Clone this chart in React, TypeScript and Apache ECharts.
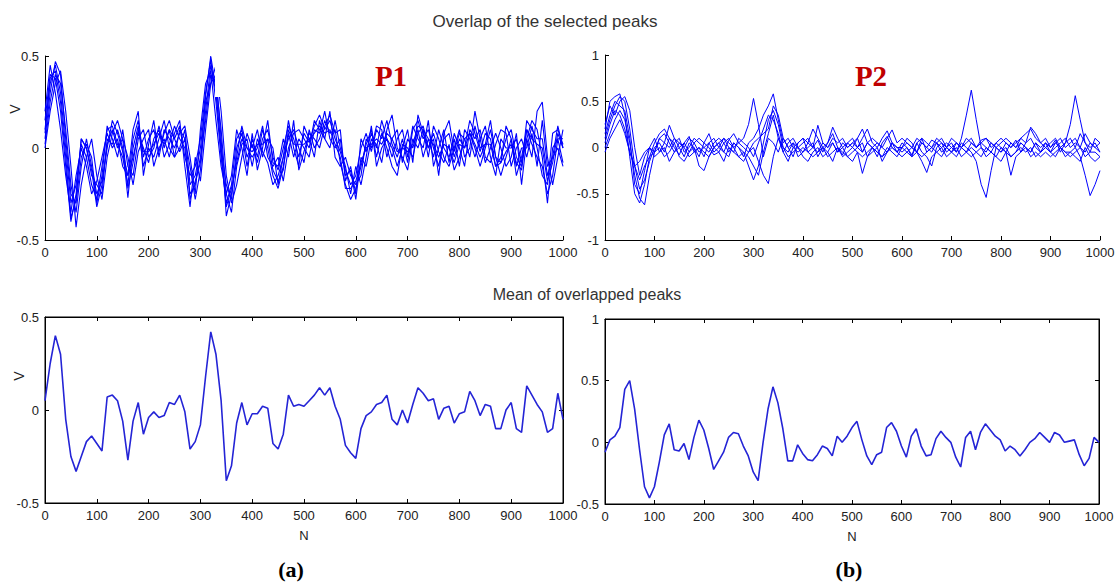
import React, { useEffect, useRef } from "react";
import * as echarts from "echarts";

// sample positions (N) for every stored value: 0, 10, ..., 1000
const sampleN = Array.from({ length: 101 }, (_, i) => i * 10);

// ---- (a) P1: overlapped peaks ----
const p1a = [
  0.10, 0.35, 0.45, 0.30, 0.00, -0.30, -0.20, 0.02, -0.05, -0.20,
  -0.28, -0.10, 0.10, 0.12, 0.02, -0.05, -0.20, 0.05, 0.15, -0.05,
  0.05, 0.10, -0.02, 0.08, 0.15, 0.05, 0.12, -0.05, -0.15, -0.10,
  0.05, 0.30, 0.48, 0.25, -0.05, -0.30, -0.20, 0.05, 0.10, -0.05,
  0.02, -0.08, 0.05, 0.10, -0.05, -0.12, 0.00, 0.12, 0.05, -0.05,
  0.08, 0.03, 0.12, 0.18, 0.10, 0.15, 0.05, -0.02, -0.12, -0.20,
  -0.15, 0.00, 0.08, -0.02, 0.10, 0.05, 0.15, 0.02, -0.05, 0.05,
  -0.08, 0.10, 0.15, 0.05, 0.10, 0.00, -0.10, 0.05, 0.08, -0.05,
  0.05, 0.00, 0.15, 0.08, -0.02, 0.08, 0.05, -0.10, -0.05, 0.05,
  0.10, -0.05, -0.10, 0.15, 0.10, 0.05, 0.05, -0.15, -0.05, 0.12,
  0.00,
];
const p1b = [
  0.02, 0.25, 0.40, 0.35, 0.10, -0.20, -0.35, -0.10, 0.05, -0.10,
  -0.25, -0.18, 0.00, 0.15, 0.08, -0.02, -0.15, -0.05, 0.08, 0.00,
  -0.08, 0.05, 0.10, -0.05, 0.02, 0.12, 0.05, 0.00, -0.25, -0.20,
  -0.05, 0.15, 0.40, 0.35, 0.10, -0.25, -0.35, -0.10, 0.02, 0.05,
  -0.10, 0.05, -0.02, -0.08, -0.20, -0.15, -0.05, 0.05, 0.10, 0.00,
  -0.08, 0.10, 0.00, 0.05, 0.15, 0.08, 0.10, -0.08, -0.20, -0.28,
  -0.22, -0.10, 0.02, 0.10, -0.05, 0.08, 0.00, -0.10, -0.15, 0.02,
  0.00, -0.05, 0.08, 0.12, 0.00, 0.08, -0.02, -0.08, 0.02, -0.12,
  -0.05, 0.05, 0.08, 0.00, -0.10, 0.00, 0.10, -0.05, -0.15, -0.05,
  0.05, -0.15, -0.05, 0.10, 0.02, -0.05, -0.10, -0.25, -0.15, 0.05,
  -0.08,
];
const p1c = [
  0.15, 0.40, 0.38, 0.20, -0.10, -0.40, -0.25, 0.05, 0.00, -0.15,
  -0.20, -0.25, 0.05, 0.02, 0.10, 0.00, -0.27, 0.00, 0.12, -0.10,
  0.00, -0.05, 0.05, 0.15, 0.00, -0.05, 0.10, 0.05, -0.10, -0.28,
  -0.12, 0.20, 0.45, 0.30, 0.00, -0.20, -0.28, 0.00, 0.08, -0.10,
  0.05, -0.05, 0.10, 0.00, -0.15, -0.22, -0.10, 0.08, -0.05, 0.05,
  0.00, -0.05, 0.10, 0.08, 0.20, 0.05, 0.00, 0.05, -0.15, -0.12,
  -0.28, -0.05, -0.10, 0.05, 0.02, -0.08, 0.10, 0.18, 0.00, -0.05,
  -0.12, 0.05, 0.00, 0.10, -0.05, 0.12, 0.05, -0.05, -0.10, 0.00,
  0.10, -0.05, 0.00, 0.20, 0.05, -0.08, 0.00, 0.08, 0.00, -0.10,
  -0.05, 0.08, -0.20, 0.05, 0.15, 0.10, -0.05, -0.30, 0.00, 0.05,
  0.05,
];
const p1d = [
  0.05, 0.30, 0.47, 0.40, 0.05, -0.25, -0.30, -0.05, 0.02, -0.05,
  -0.30, -0.15, 0.12, 0.05, -0.05, 0.10, -0.10, -0.15, 0.05, 0.10,
  -0.05, 0.00, 0.12, 0.00, 0.10, -0.05, 0.00, 0.10, -0.20, -0.15,
  0.00, 0.25, 0.35, 0.40, 0.05, -0.37, -0.25, -0.05, 0.12, 0.00,
  -0.05, 0.00, 0.12, -0.05, -0.10, -0.05, -0.18, 0.00, 0.08, 0.10,
  0.05, 0.00, 0.15, 0.10, 0.05, 0.20, -0.05, -0.10, -0.05, -0.15,
  -0.20, -0.15, 0.05, 0.00, 0.12, 0.10, -0.05, 0.05, 0.10, -0.08,
  0.05, 0.00, 0.10, -0.05, 0.05, -0.05, 0.10, 0.00, -0.05, 0.05,
  -0.10, 0.10, 0.05, -0.05, 0.05, 0.12, -0.05, -0.15, 0.05, 0.00,
  0.00, 0.05, -0.08, 0.05, -0.05, 0.20, 0.25, -0.05, -0.20, -0.05,
  0.10,
];
const p1e = [
  0.00, 0.20, 0.35, 0.42, 0.20, -0.10, -0.43, -0.20, -0.05, 0.05,
  -0.15, -0.28, -0.05, 0.08, 0.15, 0.05, -0.05, -0.20, -0.02, 0.05,
  0.10, -0.10, 0.00, 0.05, -0.05, 0.08, 0.15, -0.10, -0.32, -0.05,
  -0.18, 0.10, 0.35, 0.45, 0.20, -0.15, -0.30, -0.20, -0.05, 0.08,
  0.00, 0.10, -0.05, 0.05, 0.00, -0.20, -0.05, 0.15, 0.00, -0.10,
  0.12, 0.05, -0.05, 0.15, 0.05, 0.00, 0.15, 0.00, -0.10, -0.25,
  -0.10, -0.20, -0.05, 0.12, -0.10, 0.00, 0.05, -0.05, 0.05, 0.10,
  -0.05, 0.12, 0.05, 0.00, 0.15, -0.10, 0.00, 0.10, -0.08, 0.08,
  0.00, -0.10, 0.10, 0.05, 0.10, -0.05, -0.08, 0.02, 0.10, 0.08,
  -0.10, 0.00, 0.05, -0.05, 0.08, -0.10, 0.15, -0.10, -0.05, 0.00,
  -0.10,
];
const p1f = [
  0.20, 0.45, 0.30, 0.10, -0.15, -0.35, -0.15, 0.00, -0.10, -0.25,
  -0.18, -0.05, 0.08, 0.00, 0.05, -0.10, -0.15, 0.10, 0.20, -0.15,
  0.02, 0.15, -0.05, 0.10, 0.05, 0.00, 0.08, 0.12, -0.05, -0.25,
  0.10, 0.35, 0.42, 0.15, -0.10, -0.25, -0.15, 0.10, 0.00, -0.15,
  0.08, -0.12, 0.00, 0.15, -0.08, -0.10, 0.05, -0.05, 0.15, -0.12,
  -0.02, 0.08, 0.05, 0.00, 0.12, 0.18, 0.08, 0.10, -0.18, -0.10,
  -0.25, 0.05, -0.02, 0.08, 0.00, 0.15, 0.05, 0.00, -0.10, 0.00,
  0.10, -0.08, 0.18, 0.08, 0.00, 0.05, -0.15, 0.08, 0.15, -0.02,
  0.08, 0.05, -0.05, 0.12, 0.00, 0.02, 0.15, -0.05, -0.08, 0.12,
  0.05, -0.10, 0.00, 0.00, 0.12, 0.00, -0.15, -0.20, 0.08, 0.10,
  0.02,
];
const p1g = [
  0.08, 0.38, 0.42, 0.25, -0.05, -0.38, -0.28, 0.05, 0.00, -0.12,
  -0.32, -0.20, 0.02, 0.10, 0.00, 0.05, -0.22, -0.08, 0.10, -0.02,
  -0.02, 0.02, 0.08, 0.02, 0.10, 0.05, -0.02, 0.05, -0.28, -0.18,
  -0.08, 0.28, 0.50, 0.32, -0.02, -0.32, -0.22, -0.08, 0.05, 0.00,
  -0.02, 0.02, 0.02, 0.05, -0.12, -0.18, -0.12, 0.10, 0.02, 0.02,
  0.02, 0.05, 0.08, 0.12, 0.08, 0.10, 0.02, -0.05, -0.22, -0.22,
  -0.18, -0.08, 0.00, 0.02, 0.05, 0.02, 0.08, 0.05, -0.02, 0.00,
  -0.02, 0.02, 0.12, 0.10, 0.05, 0.02, -0.05, 0.02, 0.00, -0.08,
  0.02, 0.00, 0.08, 0.02, -0.05, 0.02, 0.02, -0.10, -0.08, -0.02,
  0.02, -0.08, -0.12, 0.10, 0.05, 0.02, 0.00, -0.18, -0.08, 0.08,
  0.00,
];

// ---- (b) P2: overlapped peaks ----
const p2a = [
  0.10, 0.30, 0.45, 0.55, 0.50, 0.20, -0.20, -0.45, -0.35, -0.15,
  0.00, 0.05, -0.05, 0.10, 0.00, -0.08, 0.05, 0.12, -0.05, 0.00,
  -0.10, 0.05, 0.10, 0.00, -0.05, 0.08, 0.15, 0.05, 0.10, 0.25,
  0.53, 0.25, -0.10, 0.10, 0.05, -0.05, 0.10, 0.00, -0.10, 0.05,
  0.10, -0.05, 0.00, 0.08, -0.05, 0.05, 0.15, 0.00, -0.08, 0.05,
  0.00, 0.10, -0.05, 0.05, 0.00, -0.10, 0.05, 0.12, 0.00, -0.05,
  0.05, 0.00, -0.08, 0.05, 0.10, -0.05, 0.00, 0.05, -0.05, 0.00,
  0.05, -0.05, 0.10, 0.35, 0.62, 0.30, 0.00, -0.05, 0.05, 0.00,
  -0.05, 0.05, 0.00, 0.08, -0.05, 0.05, 0.10, 0.00, -0.05, 0.05,
  0.00, 0.08, -0.05, 0.05, 0.25, 0.56, 0.30, 0.05, -0.05, 0.10,
  0.05,
];
const p2b = [
  0.00, 0.15, 0.30, 0.40, 0.30, 0.05, -0.30, -0.55, -0.62, -0.30,
  -0.05, 0.10, 0.15, 0.05, -0.05, 0.00, -0.10, 0.05, 0.00, -0.10,
  0.05, 0.00, -0.08, -0.05, 0.05, 0.10, 0.00, -0.10, -0.15, -0.05,
  0.00, -0.15, -0.30, -0.39, -0.10, 0.10, 0.00, -0.05, 0.05, -0.10,
  -0.05, 0.00, 0.05, -0.10, 0.00, -0.05, 0.05, -0.05, 0.00, -0.10,
  -0.05, 0.00, 0.05, -0.10, -0.05, 0.00, -0.15, -0.05, 0.05, 0.00,
  -0.05, 0.00, -0.10, 0.05, -0.05, -0.10, -0.20, 0.00, 0.05, -0.05,
  0.00, -0.05, 0.05, 0.00, -0.05, -0.15, -0.40, -0.54, -0.25, 0.00,
  -0.05, 0.00, -0.10, -0.05, 0.05, 0.00, -0.05, 0.05, -0.05, 0.00,
  -0.05, 0.05, 0.00, -0.05, -0.05, 0.00, -0.10, -0.30, -0.52, -0.40,
  -0.25,
];
const p2c = [
  0.20, 0.50, 0.55, 0.58, 0.35, -0.10, -0.50, -0.60, -0.40, -0.10,
  0.05, 0.15, 0.20, 0.10, 0.05, 0.10, -0.05, 0.00, 0.10, 0.05,
  0.00, -0.05, 0.05, 0.10, 0.05, -0.05, 0.05, 0.00, -0.10, 0.05,
  0.10, 0.20, 0.35, 0.45, 0.58, 0.30, 0.05, 0.10, 0.00, 0.05,
  0.10, 0.05, 0.20, 0.10, 0.00, 0.05, 0.22, 0.10, 0.00, 0.05,
  0.10, 0.00, 0.10, 0.20, 0.05, 0.00, 0.10, 0.18, 0.05, -0.05,
  0.00, 0.10, 0.05, -0.05, 0.10, 0.05, 0.00, 0.10, 0.05, 0.00,
  -0.05, 0.05, 0.00, 0.10, 0.05, 0.00, 0.08, 0.10, 0.00, 0.05,
  0.10, 0.05, 0.00, 0.05, 0.10, 0.15, 0.20, 0.10, 0.05, 0.00,
  0.05, 0.10, 0.00, 0.05, 0.10, 0.00, 0.15, 0.05, 0.00, 0.05,
  -0.05,
];
const p2d = [
  0.05, 0.25, 0.40, 0.35, 0.20, -0.05, -0.20, -0.35, -0.20, -0.10,
  -0.05, 0.00, -0.10, -0.05, 0.05, -0.10, -0.15, -0.05, 0.00, -0.20,
  -0.25, -0.10, 0.00, -0.05, -0.15, 0.00, -0.05, -0.10, -0.05, -0.20,
  -0.35, -0.20, 0.05, 0.30, 0.40, 0.25, 0.00, -0.10, -0.05, 0.00,
  -0.10, -0.15, -0.05, 0.00, -0.10, -0.05, -0.15, 0.00, -0.05, -0.10,
  -0.15, -0.05, -0.28, -0.10, 0.00, -0.05, -0.10, 0.00, -0.05, -0.10,
  0.00, -0.05, -0.10, -0.05, -0.15, -0.27, -0.10, -0.05, 0.00, -0.10,
  -0.05, -0.10, 0.00, -0.05, -0.10, -0.05, 0.00, -0.10, -0.05, -0.10,
  -0.15, -0.05, -0.30, -0.10, -0.05, 0.00, -0.10, -0.05, -0.10, -0.05,
  -0.10, -0.05, 0.00, -0.10, -0.05, -0.10, -0.15, 0.00, -0.10, -0.15,
  -0.10,
];
const p2e = [
  0.25, 0.45, 0.35, 0.50, 0.55, 0.40, 0.00, -0.30, -0.10, 0.00,
  0.10, -0.05, 0.05, 0.24, 0.10, 0.00, 0.05, -0.05, 0.05, 0.10,
  0.05, 0.15, 0.00, 0.05, 0.10, 0.00, -0.05, 0.10, 0.05, 0.00,
  -0.10, 0.05, 0.20, 0.35, 0.30, 0.15, -0.05, 0.05, 0.10, 0.00,
  0.05, 0.10, 0.00, 0.24, 0.05, 0.00, 0.10, 0.05, 0.10, 0.00,
  0.05, 0.10, 0.20, 0.05, 0.10, 0.05, 0.00, 0.10, 0.19, 0.05,
  0.10, 0.05, 0.00, 0.10, 0.05, 0.00, 0.08, 0.05, 0.10, 0.00,
  0.10, 0.05, 0.00, 0.05, 0.10, 0.00, 0.05, 0.10, 0.05, 0.00,
  0.05, 0.10, 0.05, 0.00, 0.10, 0.05, 0.22, 0.15, 0.05, 0.10,
  0.00, 0.05, 0.10, 0.00, 0.05, 0.10, 0.00, 0.15, 0.05, 0.00,
  0.05,
];
const p2f = [
  -0.05, 0.10, 0.20, 0.30, 0.15, -0.05, -0.20, -0.15, -0.05, 0.00,
  -0.10, -0.05, 0.00, -0.15, -0.05, 0.05, 0.00, -0.10, -0.05, 0.00,
  -0.05, -0.10, 0.00, 0.05, -0.05, -0.10, 0.05, 0.00, -0.05, -0.10,
  -0.20, -0.30, -0.05, 0.15, 0.35, 0.10, -0.05, -0.15, 0.00, -0.05,
  0.00, -0.05, -0.10, -0.05, 0.00, -0.10, -0.05, 0.00, -0.10, -0.05,
  0.00, -0.05, -0.10, -0.05, 0.00, -0.05, -0.10, -0.05, 0.00, -0.05,
  -0.10, -0.05, 0.00, -0.05, -0.10, -0.05, 0.00, -0.05, -0.10, 0.00,
  -0.05, 0.00, -0.10, -0.05, 0.00, -0.05, -0.10, 0.00, -0.05, -0.10,
  0.00, -0.05, -0.10, -0.05, 0.00, -0.05, 0.00, -0.10, -0.05, 0.00,
  -0.05, -0.10, 0.00, -0.05, -0.10, -0.05, 0.00, -0.10, -0.05, -0.05,
  -0.10,
];
const p2g = [
  0.15, 0.35, 0.50, 0.45, 0.40, 0.10, -0.40, -0.50, -0.25, 0.00,
  -0.05, 0.10, 0.05, 0.00, 0.10, 0.05, 0.00, 0.10, 0.05, -0.05,
  0.00, 0.05, -0.05, 0.00, 0.10, 0.05, 0.00, 0.05, 0.00, -0.05,
  0.05, 0.10, 0.15, 0.20, 0.45, 0.35, 0.10, 0.00, 0.05, 0.00,
  -0.05, 0.05, 0.00, -0.05, 0.05, 0.00, 0.05, -0.05, 0.05, 0.00,
  0.05, 0.00, -0.05, 0.05, 0.00, 0.05, 0.00, -0.05, 0.05, 0.00,
  0.00, 0.05, 0.00, -0.05, 0.05, 0.00, -0.05, 0.05, 0.00, 0.05,
  0.00, 0.05, 0.00, -0.05, 0.05, 0.00, 0.05, 0.00, -0.05, 0.05,
  0.00, -0.05, 0.05, 0.00, 0.05, 0.00, -0.05, 0.05, 0.00, 0.05,
  -0.05, 0.00, 0.05, 0.10, 0.00, 0.05, 0.00, -0.05, 0.05, 0.00,
  -0.05,
];

// ---- means ----
const meanA = [
  0.05, 0.25, 0.40, 0.30, -0.05, -0.25, -0.33, -0.25, -0.17, -0.14,
  -0.18, -0.22, 0.07, 0.08, 0.05, -0.06, -0.27, -0.06, 0.04, -0.13,
  -0.04, -0.01, -0.04, -0.03, 0.04, 0.03, 0.08, -0.01, -0.21, -0.17,
  -0.08, 0.18, 0.42, 0.30, 0.05, -0.38, -0.30, -0.07, 0.04, -0.08,
  -0.02, -0.02, 0.02, 0.01, -0.18, -0.21, -0.13, 0.08, 0.02, 0.03,
  0.02, 0.05, 0.08, 0.12, 0.08, 0.12, 0.02, -0.05, -0.19, -0.23,
  -0.26, -0.10, -0.03, -0.01, 0.03, 0.04, 0.08, -0.05, -0.08, 0.00,
  -0.07, 0.03, 0.12, 0.09, 0.05, 0.06, -0.05, 0.01, 0.02, -0.07,
  -0.02, -0.01, 0.10, 0.05, -0.03, 0.03, 0.02, -0.10, -0.10, 0.00,
  0.04, -0.10, -0.12, 0.13, 0.08, 0.03, -0.01, -0.12, -0.10, 0.09,
  -0.05,
];
const meanB = [
  -0.08, 0.02, 0.05, 0.12, 0.43, 0.50, 0.27, -0.06, -0.36, -0.45,
  -0.36, -0.16, 0.06, 0.15, -0.06, -0.07, -0.01, -0.14, 0.04, 0.18,
  0.10, -0.05, -0.22, -0.15, -0.08, 0.04, 0.08, 0.07, -0.03, -0.11,
  -0.24, -0.31, 0.00, 0.27, 0.45, 0.32, 0.11, -0.15, -0.15, -0.02,
  -0.09, -0.14, -0.15, -0.10, -0.03, -0.05, -0.11, 0.05, 0.00, 0.05,
  0.12, 0.17, 0.02, -0.11, -0.18, -0.10, -0.08, 0.12, 0.16, 0.09,
  -0.03, -0.12, 0.05, 0.11, -0.03, -0.11, -0.10, 0.03, 0.09, 0.04,
  0.00, -0.12, -0.20, 0.04, 0.09, -0.06, 0.08, 0.15, 0.10, 0.05,
  0.02, -0.07, -0.03, -0.06, -0.11, -0.06, 0.00, 0.03, 0.08, 0.04,
  0.00, 0.08, 0.06, 0.00, 0.01, 0.02, -0.10, -0.19, -0.13, 0.04,
  0.00,
];

const p1Traces = [p1a, p1b, p1c, p1d, p1e, p1f, p1g];
const p2Traces = [p2a, p2b, p2c, p2d, p2e, p2f, p2g];

const titleTop = "Overlap of the selected peaks";
const titleBottom = "Mean of overlapped peaks";

const AX_FONT = "'Liberation Sans', Arial, sans-serif";
const SERIF = "'Liberation Serif', 'DejaVu Serif', serif";

function toPoints(vals: number[]) {
  return vals.map((v, i) => [sampleN[i], v]);
}

const plainNum = (v: number) => String(v);

function xAxisDef(gridIndex: number, opts: { top?: boolean; name?: string } = {}) {
  return {
    type: "value",
    show: true,
    gridIndex,
    position: opts.top ? "top" : "bottom",
    min: 0,
    max: 1000,
    interval: 100,
    name: opts.name || "",
    nameLocation: "middle",
    nameGap: 26,
    nameTextStyle: { fontFamily: AX_FONT, fontSize: 13, color: "#222" },
    axisLine: { show: true, onZero: false, lineStyle: { color: "#000", width: 1 } },
    axisTick: { show: true, inside: true, length: 4, lineStyle: { color: "#000" } },
    axisLabel: {
      show: !opts.top,
      margin: 6,
      fontFamily: AX_FONT,
      fontSize: 13,
      color: "#222",
      formatter: plainNum,
    },
    splitLine: { show: false },
  };
}

function yAxisDef(
  gridIndex: number,
  min: number,
  max: number,
  opts: { right?: boolean } = {}
) {
  return {
    type: "value",
    show: true,
    gridIndex,
    position: opts.right ? "right" : "left",
    min,
    max,
    interval: 0.5,
    axisLine: { show: true, onZero: false, lineStyle: { color: "#000", width: 1 } },
    axisTick: { show: true, inside: true, length: 4, lineStyle: { color: "#000" } },
    axisLabel: {
      show: !opts.right,
      margin: 6,
      fontFamily: AX_FONT,
      fontSize: 13,
      color: "#222",
      formatter: plainNum,
    },
    splitLine: { show: false },
  };
}

export default function App() {
  const ref = useRef<HTMLDivElement>(null);

  useEffect(() => {
    if (!ref.current) return;
    const chart = echarts.init(ref.current, null, { renderer: "svg" });

    const series: any[] = [];
    p1Traces.forEach((t, k) => {
      series.push({
        type: "line",
        name: "P1-" + k,
        xAxisIndex: 0,
        yAxisIndex: 0,
        data: toPoints(t),
        symbol: "none",
        lineStyle: { color: "#0000ff", width: 1.1 },
        z: 2,
      });
    });
    p2Traces.forEach((t, k) => {
      series.push({
        type: "line",
        name: "P2-" + k,
        xAxisIndex: 1,
        yAxisIndex: 1,
        data: toPoints(t),
        symbol: "none",
        lineStyle: { color: "#0000ff", width: 1 },
        z: 2,
      });
    });
    series.push({
      type: "line",
      name: "Mean P1",
      xAxisIndex: 2,
      yAxisIndex: 2,
      data: toPoints(meanA),
      symbol: "none",
      lineStyle: { color: "#2424d6", width: 1.6 },
      z: 2,
    });
    series.push({
      type: "line",
      name: "Mean P2",
      xAxisIndex: 3,
      yAxisIndex: 3,
      data: toPoints(meanB),
      symbol: "none",
      lineStyle: { color: "#2424d6", width: 1.6 },
      z: 2,
    });
    // invisible carriers so the top / right box axes get drawn
    series.push({
      type: "line",
      name: "boxA",
      xAxisIndex: 4,
      yAxisIndex: 4,
      data: [],
      symbol: "none",
    });
    series.push({
      type: "line",
      name: "boxB",
      xAxisIndex: 5,
      yAxisIndex: 5,
      data: [],
      symbol: "none",
    });

    const option: any = {
      animation: false,
      backgroundColor: "#ffffff",
      grid: [
        { left: 45, top: 56, width: 518, height: 184 },
        { left: 605, top: 55, width: 495, height: 185 },
        { left: 45, top: 317, width: 518, height: 186, show: true, borderColor: "#000", borderWidth: 1 },
        { left: 605, top: 319, width: 494, height: 185, show: true, borderColor: "#000", borderWidth: 1 },
      ],
      xAxis: [
        xAxisDef(0),
        xAxisDef(1),
        xAxisDef(2, { name: "N" }),
        xAxisDef(3, { name: "N" }),
        xAxisDef(2, { top: true }),
        xAxisDef(3, { top: true }),
      ],
      yAxis: [
        yAxisDef(0, -0.5, 0.5),
        yAxisDef(1, -1, 1),
        yAxisDef(2, -0.5, 0.5),
        yAxisDef(3, -0.5, 1),
        yAxisDef(2, -0.5, 0.5, { right: true }),
        yAxisDef(3, -0.5, 1, { right: true }),
      ],
      series,
      graphic: [
        {
          type: "rect",
          z: 100,
          shape: { x: 215, y: 30, width: 352, height: 67 },
          style: { fill: "#ffffff" },
        },
        {
          type: "text",
          z: 101,
          x: 545,
          y: 21,
          style: {
            text: titleTop,
            fontFamily: AX_FONT,
            fontSize: 17,
            fill: "#333",
            align: "center",
            verticalAlign: "middle",
          },
        },
        {
          type: "text",
          z: 101,
          x: 587,
          y: 294,
          style: {
            text: titleBottom,
            fontFamily: AX_FONT,
            fontSize: 16,
            fill: "#333",
            align: "center",
            verticalAlign: "middle",
          },
        },
        {
          type: "text",
          z: 101,
          x: 391,
          y: 76,
          style: {
            text: "P1",
            fontFamily: SERIF,
            fontWeight: "bold",
            fontSize: 29,
            fill: "#c00000",
            align: "center",
            verticalAlign: "middle",
          },
        },
        {
          type: "text",
          z: 101,
          x: 871,
          y: 76,
          style: {
            text: "P2",
            fontFamily: SERIF,
            fontWeight: "bold",
            fontSize: 29,
            fill: "#c00000",
            align: "center",
            verticalAlign: "middle",
          },
        },
        {
          type: "text",
          z: 101,
          x: 15,
          y: 109,
          rotation: Math.PI / 2,
          style: {
            text: "V",
            fontFamily: AX_FONT,
            fontSize: 14,
            fill: "#222",
            align: "center",
            verticalAlign: "middle",
          },
        },
        {
          type: "text",
          z: 101,
          x: 19,
          y: 376,
          rotation: Math.PI / 2,
          style: {
            text: "V",
            fontFamily: AX_FONT,
            fontSize: 14,
            fill: "#222",
            align: "center",
            verticalAlign: "middle",
          },
        },
        {
          type: "text",
          z: 101,
          x: 291,
          y: 569,
          style: {
            text: "(a)",
            fontFamily: SERIF,
            fontWeight: "bold",
            fontSize: 22,
            fill: "#000",
            align: "center",
            verticalAlign: "middle",
          },
        },
        {
          type: "text",
          z: 101,
          x: 849,
          y: 569,
          style: {
            text: "(b)",
            fontFamily: SERIF,
            fontWeight: "bold",
            fontSize: 22,
            fill: "#000",
            align: "center",
            verticalAlign: "middle",
          },
        },
      ],
    };

    chart.setOption(option);
    return () => chart.dispose();
  }, []);

  return (
    <div
      ref={ref}
      style={{
        position: "absolute",
        left: 0,
        top: 0,
        width: 1120,
        height: 588,
        background: "#fff",
      }}
    />
  );
}
